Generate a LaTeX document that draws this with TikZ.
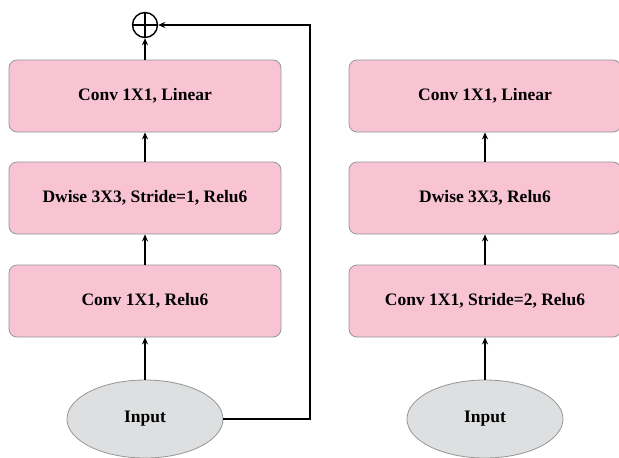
\documentclass[tikz,border=0pt]{standalone}
\usepackage{fontspec}
\setmainfont{Liberation Serif}
\usetikzlibrary{arrows.meta,shapes.geometric}
\definecolor{boxpink}{RGB}{248,196,212}
\definecolor{boxline}{RGB}{150,150,150}
\definecolor{ellgray}{RGB}{221,223,224}
\begin{document}
\begin{tikzpicture}[x=1pt,y=-1pt,
  block/.style={draw=boxline,line width=0.8pt,fill=boxpink,rounded corners=8pt,
    minimum width=272pt,minimum height=72pt,inner sep=0pt,
    font=\fontsize{17.5}{19}\selectfont\bfseries},
  inp/.style={ellipse,draw=boxline,line width=0.8pt,fill=ellgray,
    minimum width=156pt,minimum height=78pt,inner sep=0pt,
    font=\fontsize{17.5}{19}\selectfont\bfseries},
  conn/.style={line width=1.6pt,-{Stealth[length=7pt,width=6pt]}}]
\useasboundingbox (0,0) rectangle (619,458);
% left column
\node[block] (l1) at (145,96) {Conv 1X1, Linear};
\node[block] (l2) at (145,198) {Dwise 3X3, Stride=1, Relu6};
\node[block] (l3) at (145,301) {Conv 1X1, Relu6};
\node[inp] (li) at (145,419) {Input};
\node[circle,draw,line width=1.4pt,minimum size=25pt,inner sep=0pt] (add) at (145,25) {};
\draw[line width=1.2pt] (add.north) -- (add.south) (add.west) -- (add.east);
\coordinate (c1) at (310,419);
\coordinate (c2) at (310,25);
\draw[conn] (li) -- (l3);
\draw[conn] (l3) -- (l2);
\draw[conn] (l2) -- (l1);
\draw[conn] (l1) -- (add);
\draw[conn] (li.east) -- (c1) -- (c2) -- (add.east);
% right column
\node[block] (r1) at (485,96) {Conv 1X1, Linear};
\node[block] (r2) at (485,198) {Dwise 3X3, Relu6};
\node[block] (r3) at (485,301) {Conv 1X1, Stride=2, Relu6};
\node[inp] (ri) at (485,419) {Input};
\draw[conn] (ri) -- (r3);
\draw[conn] (r3) -- (r2);
\draw[conn] (r2) -- (r1);
\end{tikzpicture}
\end{document}
